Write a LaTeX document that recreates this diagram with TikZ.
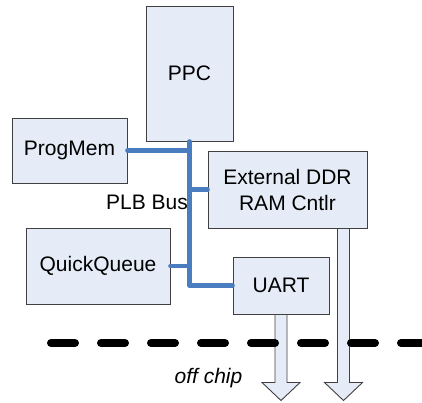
\documentclass[tikz,border=0pt]{standalone}
\usepackage{fontspec}
\setmainfont{Liberation Sans}
\definecolor{boxfill}{HTML}{E6ECF7}
\definecolor{boxline}{HTML}{404040}
\definecolor{busblue}{HTML}{4A7DC0}
\newcommand\offchiparrow[2]{%
  \draw[outarrow] (#1) ++(-6,0) -- ++(0,#2) -- ++(-13,0) -- ++(19,18) -- ++(19,-18) -- ++(-13,0) -- ++(0,-#2) -- cycle;}
\begin{document}
\begin{tikzpicture}[x=1pt,y=-1pt,
  block/.style={draw=boxline,line width=1pt,fill=boxfill,inner sep=0pt,align=center,font=\fontsize{21}{26}\selectfont},
  bus/.style={busblue,line width=4.6pt,line cap=round,line join=round},
  lbl/.style={font=\fontsize{21}{26}\selectfont,inner sep=0pt},
  outarrow/.style={draw=boxline,line width=0.9pt,fill=boxfill,line join=miter},
  chipedge/.style={line width=8pt,line cap=round,dash pattern=on 24pt off 26pt}]
\useasboundingbox (0,0) rectangle (422,402);
\node[block,minimum width=87,minimum height=135] (ppc) at (189.5,73.5) {PPC};
\node[block,minimum width=115,minimum height=65] (progmem) at (69.5,150.5) {ProgMem};
\node[block,minimum width=159,minimum height=77] (ddr) at (287.5,189.5) {External DDR\\RAM Cntlr};
\node[block,minimum width=144,minimum height=76] (qq) at (98,266) {QuickQueue};
\node[block,minimum width=96,minimum height=57] (uart) at (281,285.5) {UART};
% bus
\draw[bus] (ppc.south) |- (uart.west);
\draw[bus] (progmem.east) -- (progmem.east -| ppc.south);
\draw[bus] (ddr.west) -- (ddr.west -| ppc.south);
\draw[bus] (qq.east) -- (qq.east -| ppc.south);
\node[lbl,anchor=base] (plb) at (147,209) {PLB Bus};
% off-chip arrows
\coordinate (ua) at (uart.south);
\coordinate (da) at ([xshift=-24]ddr.south east);
\offchiparrow{ua}{68}
\offchiparrow{da}{154}
% chip boundary
\coordinate (cl) at (51,343);
\coordinate (cr) at (430,343);
\draw[chipedge] (cl) -- (cr);
\node[lbl,anchor=base,font=\fontsize{21}{26}\selectfont\itshape] (off) at (208.5,383) {off chip};
\end{tikzpicture}
\end{document}
